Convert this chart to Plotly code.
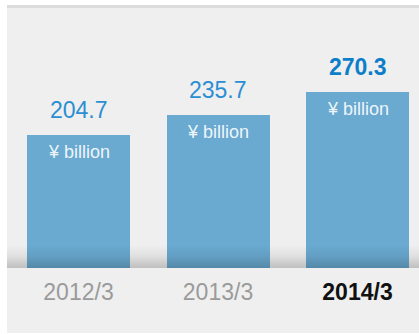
import plotly.graph_objects as go

# Data
periods = ["2012/3", "2013/3", "2014/3"]
values = [204.7, 235.7, 270.3]
unit_label = "¥ billion"
highlight = [False, False, True]

# Canvas geometry (px)
W, H = 419, 334
BASE_PX = 268          # y pixel of the bar baseline
PX_PER_UNIT = 0.65     # vertical scale
FIRST_CENTER = 78.5    # x pixel of the first bar centre
STEP = 139.5           # px between bar centres
PANEL_LEFT = 7

x_pos = list(range(len(periods)))
x_range = [-FIRST_CENTER / STEP, (W - FIRST_CENTER) / STEP]
y_top = BASE_PX / PX_PER_UNIT
y_domain = [(H - BASE_PX) / H, 1]

BAR_COLOR = "#6aaad1"
VAL_COLOR = "#2a8ed3"
VAL_COLOR_HI = "#0d7ec8"
FONT = "Liberation Sans, Arial, sans-serif"

fig = go.Figure()

fig.add_trace(go.Bar(
    x=x_pos, y=values, width=103 / STEP,
    marker=dict(color=BAR_COLOR, line=dict(width=0)),
    hoverinfo="skip",
))

# darkening gradient just above the baseline (over bars and panel)
shade_h = (BASE_PX - 245) / PX_PER_UNIT
xl = (PANEL_LEFT - FIRST_CENTER) / STEP
xr = x_range[1]
fig.add_trace(go.Scatter(
    x=[xl, xr, xr, xl, xl], y=[0, 0, shade_h, shade_h, 0],
    mode="lines", fill="toself", line=dict(width=0),
    fillgradient=dict(type="vertical",
                      colorscale=[[0, "rgba(0,0,0,0.2)"],
                                  [0.5, "rgba(0,0,0,0.07)"],
                                  [1, "rgba(0,0,0,0)"]]),
    hoverinfo="skip", showlegend=False,
))

annotations = []
for x, v, hi in zip(x_pos, values, highlight):
    annotations.append(dict(
        x=x, y=v, xref="x", yref="y", text=f"<b>{v:.1f}</b>" if hi else f"{v:.1f}",
        showarrow=False, yanchor="bottom", yshift=10,
        font=dict(family=FONT, size=23, color=VAL_COLOR_HI if hi else VAL_COLOR),
    ))
    annotations.append(dict(
        x=x, y=v, xref="x", yref="y", text=unit_label,
        showarrow=False, yanchor="top", yshift=-5,
        font=dict(family=FONT, size=18, color="rgba(255,255,255,0.9)"),
    ))

ticktext = [f"<b><span style='color:#111111'>{p}</span></b>" if hi else p
            for p, hi in zip(periods, highlight)]

fig.update_layout(
    width=W, height=H,
    margin=dict(l=0, r=0, t=0, b=0),
    paper_bgcolor="white",
    plot_bgcolor="rgba(0,0,0,0)",
    showlegend=False,
    bargap=0,
    annotations=annotations,
    shapes=[
        dict(type="rect", xref="paper", yref="paper",
             x0=PANEL_LEFT / W, x1=1, y0=1 / H, y1=(H - 5) / H,
             fillcolor="#efefef", line=dict(width=0), layer="below"),
        dict(type="rect", xref="paper", yref="paper",
             x0=PANEL_LEFT / W, x1=1, y0=(H - 8) / H, y1=(H - 5) / H,
             fillcolor="#dcdcdc", line=dict(width=0), layer="below"),
    ],
    xaxis=dict(
        range=x_range, tickvals=x_pos, ticktext=ticktext,
        showgrid=False, zeroline=False, showline=False, ticks="",
        ticklabelstandoff=8,
        tickfont=dict(family=FONT, size=23, color="#9a9a9a"),
        fixedrange=True,
    ),
    yaxis=dict(
        range=[0, y_top], domain=y_domain,
        visible=False, fixedrange=True,
    ),
)

fig.write_html("out.html", config={"displayModeBar": False})
